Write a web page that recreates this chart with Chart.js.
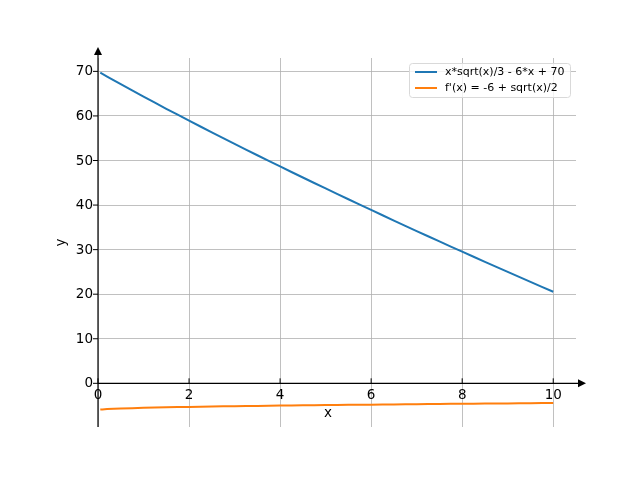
<!DOCTYPE html>
<html>
<head>
<meta charset="utf-8">
<script src="https://cdn.jsdelivr.net/npm/chart.js@4"></script>
<style>
  html, body { margin: 0; padding: 0; background: #fff; }
  #wrap { width: 640px; height: 480px; }
</style>
</head>
<body>
<div id="wrap"><canvas id="chart" width="640" height="480"></canvas></div>
<script>
// values
const xValues = [0.05, 0.2, 0.5, 1, 1.5, 2, 2.5, 3, 3.5, 4, 4.5, 5, 5.5, 6, 6.5, 7, 7.5, 8, 8.5, 9, 9.5, 10];
const curveValues = [69.70, 68.83, 67.12, 64.33, 61.61, 58.94, 56.32, 53.73, 51.18, 48.67, 46.18, 43.73,
    41.30, 38.90, 36.52, 34.17, 31.85, 29.54, 27.26, 25.00, 22.76, 20.54];
const derivValues = [-5.89, -5.78, -5.65, -5.50, -5.39, -5.29, -5.21, -5.13, -5.06, -5.00, -4.94, -4.88,
    -4.83, -4.78, -4.73, -4.68, -4.63, -4.59, -4.54, -4.50, -4.46, -4.42];
const xTicks = [0, 2, 4, 6, 8, 10];
const yTicks = [0, 10, 20, 30, 40, 50, 60, 70];
const seriesLabels = ['x*sqrt(x)/3 - 6*x + 70', "f'(x) = -6 + sqrt(x)/2"];
const seriesColors = ['#1f77b4', '#ff7f0e'];

const font = '"DejaVu Sans", sans-serif';

// spines through zero, arrows, ticks, labels and legend, matplotlib style
const axesPlugin = {
    id: 'axesPlugin',
    afterDatasetsDraw(chart) {
        const ctx = chart.ctx;
        const area = chart.chartArea;
        const xs = chart.scales.x;
        const ys = chart.scales.y;
        const x0 = xs.getPixelForValue(0);
        const y0 = ys.getPixelForValue(0);

        ctx.save();
        ctx.strokeStyle = '#000';
        ctx.fillStyle = '#000';
        ctx.lineWidth = 1.2;

        // y spine with arrow
        ctx.beginPath();
        ctx.moveTo(x0, area.bottom);
        ctx.lineTo(x0, area.top - 4);
        ctx.stroke();
        ctx.beginPath();
        ctx.moveTo(x0, area.top - 11);
        ctx.lineTo(x0 - 4, area.top - 3);
        ctx.lineTo(x0 + 4, area.top - 3);
        ctx.closePath();
        ctx.fill();

        // x spine with arrow
        ctx.beginPath();
        ctx.moveTo(x0, y0);
        ctx.lineTo(area.right + 2, y0);
        ctx.stroke();
        ctx.beginPath();
        ctx.moveTo(area.right + 10, y0);
        ctx.lineTo(area.right + 2, y0 - 4);
        ctx.lineTo(area.right + 2, y0 + 4);
        ctx.closePath();
        ctx.fill();

        ctx.lineWidth = 1;
        ctx.font = '13.5px ' + font;

        // y ticks
        ctx.textAlign = 'right';
        ctx.textBaseline = 'middle';
        yTicks.forEach(v => {
            const py = ys.getPixelForValue(v);
            ctx.beginPath();
            ctx.moveTo(x0 - 5, py);
            ctx.lineTo(x0, py);
            ctx.stroke();
            ctx.fillText(String(v), x0 - 5, py + 0.5);
        });

        // x ticks
        ctx.textAlign = 'center';
        ctx.textBaseline = 'top';
        xTicks.forEach(v => {
            const px = xs.getPixelForValue(v);
            ctx.beginPath();
            ctx.moveTo(px, y0 - 5);
            ctx.lineTo(px, y0);
            ctx.stroke();
            ctx.fillText(String(v), px, y0 + 5);
        });

        // axis titles
        ctx.textBaseline = 'middle';
        ctx.fillText('x', 328, 413);
        ctx.save();
        ctx.translate(61, (area.top + area.bottom) / 2);
        ctx.rotate(-Math.PI / 2);
        ctx.fillText('y', 0, 0);
        ctx.restore();

        // legend
        const lx = 409, ly = 63, lw = 161, lh = 34;
        ctx.fillStyle = 'rgba(255,255,255,0.8)';
        ctx.strokeStyle = '#d9d9d9';
        ctx.beginPath();
        ctx.roundRect(lx + 0.5, ly + 0.5, lw, lh, 3);
        ctx.fill();
        ctx.stroke();
        ctx.font = '11px ' + font;
        ctx.textAlign = 'left';
        ctx.textBaseline = 'middle';
        chart.data.datasets.forEach((ds, i) => {
            const rowY = ly + 9 + i * 16;
            ctx.strokeStyle = ds.borderColor;
            ctx.lineWidth = 2;
            ctx.beginPath();
            ctx.moveTo(lx + 6, rowY);
            ctx.lineTo(lx + 28, rowY);
            ctx.stroke();
            ctx.fillStyle = '#000';
            ctx.fillText(ds.label, lx + 36, rowY + 0.5);
        });
        ctx.restore();
    }
};

const ctx = document.getElementById('chart').getContext('2d');
new Chart(ctx, {
    type: 'line',
    data: {
        datasets: [curveValues, derivValues].map((vals, i) => ({
            label: seriesLabels[i],
            data: xValues.map((x, j) => ({ x: x, y: vals[j] })),
            borderColor: seriesColors[i],
            borderWidth: 2,
            pointRadius: 0,
            tension: 0.3,
            fill: false
        }))
    },
    options: {
        responsive: false,
        animation: false,
        layout: { padding: { left: 98, right: 64, top: 58, bottom: 53 } },
        plugins: {
            legend: { display: false },
            tooltip: { enabled: false }
        },
        scales: {
            x: {
                type: 'linear',
                min: 0,
                max: 10.5,
                afterBuildTicks: scale => { scale.ticks = xTicks.map(v => ({ value: v })); },
                ticks: { display: false },
                border: { display: false },
                grid: { color: '#b0b0b0', lineWidth: 0.8, drawTicks: false }
            },
            y: {
                type: 'linear',
                min: -9.8,
                max: 73,
                afterBuildTicks: scale => { scale.ticks = yTicks.map(v => ({ value: v })); },
                ticks: { display: false },
                border: { display: false },
                grid: { color: '#b0b0b0', lineWidth: 0.8, drawTicks: false }
            }
        }
    },
    plugins: [axesPlugin]
});
</script>
</body>
</html>
